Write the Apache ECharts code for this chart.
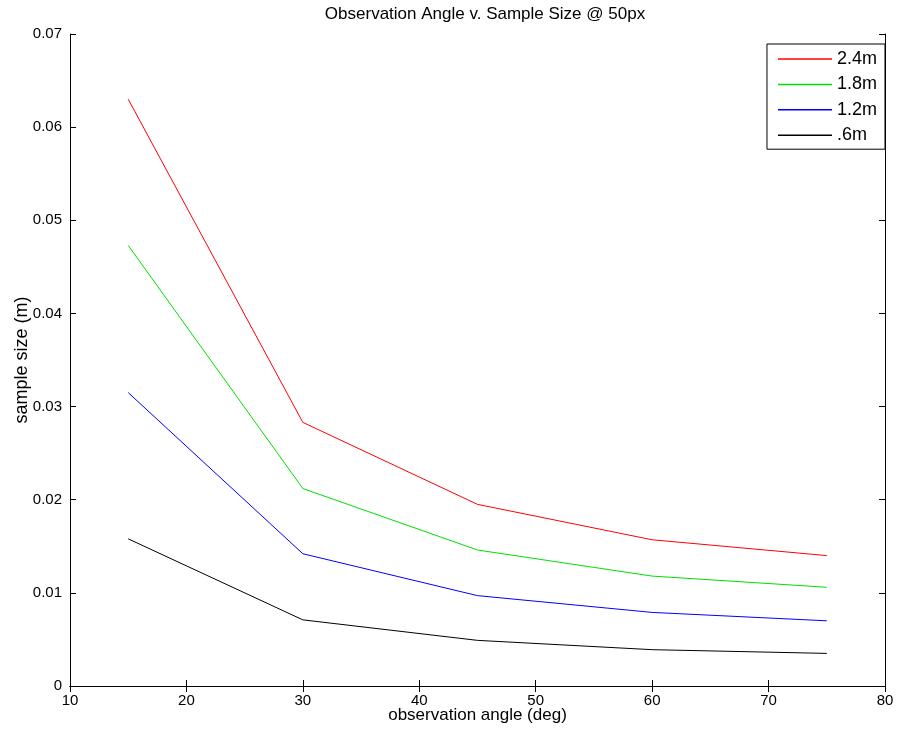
<!DOCTYPE html>
<html><head><meta charset="utf-8">
<script src="https://cdn.jsdelivr.net/npm/echarts@6/dist/echarts.min.js"></script>
<style>html,body{margin:0;padding:0;background:#fff}#c{width:906px;height:742px}</style>
</head><body><div id="c"></div>
<script>
const angles = [15, 30, 45, 60, 75];
const seriesNames = ['2.4m', '1.8m', '1.2m', '.6m'];
const s24 = [0.0630, 0.0283, 0.0195, 0.0157, 0.0140];
const s18 = [0.0473, 0.0212, 0.0146, 0.0118, 0.0106];
const s12 = [0.0315, 0.0142, 0.0097, 0.0079, 0.0070];
const s06 = [0.0158, 0.0071, 0.0049, 0.0039, 0.0035];
const xTicks = [10, 20, 30, 40, 50, 60, 70, 80];
const yTicks = [0, 0.01, 0.02, 0.03, 0.04, 0.05, 0.06, 0.07];

const colors = ['#ff0000', '#00e000', '#0000ff', '#000000'];
const values = [s24, s18, s12, s06];
const font = 'Liberation Sans, Arial, sans-serif';

const chart = echarts.init(document.getElementById('c'), null, {renderer: 'canvas'});
const axisCommon = {
  axisLine: {show: true, lineStyle: {color: '#000', width: 1}},
  axisTick: {show: true, inside: true, length: 6, lineStyle: {color: '#000'}},
  splitLine: {show: false}
};
chart.setOption({
  animation: false,
  backgroundColor: '#fff',
  title: {
    text: 'Observation Angle v. Sample Size @ 50px',
    left: 480, top: 1, textAlign: 'center',
    textStyle: {fontFamily: font, fontSize: 17, fontWeight: 'normal', color: '#000'}
  },
  grid: {left: 70, right: 21, top: 34, bottom: 56, show: false, containLabel: false, outerBoundsMode: 'none'},
  legend: {
    orient: 'vertical', right: 21, top: 44,
    data: seriesNames,
    icon: 'rect', itemWidth: 54, itemHeight: 1.5, itemGap: 7.4,
    padding: [6, 8, 5, 11],
    borderColor: '#000', borderWidth: 1, backgroundColor: '#fff',
    textStyle: {fontFamily: font, fontSize: 18, color: '#000'}
  },
  xAxis: [
    Object.assign({type: 'value', min: 10, max: 80, interval: 10, position: 'bottom',
      name: 'observation angle (deg)', nameLocation: 'middle', nameGap: 21, nameMoveOverlap: false,
      nameTextStyle: {fontFamily: font, fontSize: 17, color: '#000'},
      axisLabel: {fontFamily: font, fontSize: 15, color: '#000', margin: 7,
        formatter: v => xTicks.includes(v) ? String(v) : ''}}, axisCommon),
    Object.assign({type: 'value', min: 10, max: 80, interval: 10, position: 'top',
      axisLabel: {show: false}}, axisCommon)
  ],
  yAxis: [
    Object.assign({type: 'value', min: 0, max: 0.07, interval: 0.01, position: 'left',
      name: 'sample size (m)', nameLocation: 'middle', nameGap: 39, nameRotate: 90, nameMoveOverlap: false,
      nameTextStyle: {fontFamily: font, fontSize: 18, color: '#000'},
      axisLabel: {fontFamily: font, fontSize: 15, color: '#000', margin: 8,
        formatter: v => { const t = yTicks.find(y => Math.abs(y - v) < 1e-9); return t === undefined ? '' : (t === 0 ? '0' : t.toFixed(2)); }}}, axisCommon),
    Object.assign({type: 'value', min: 0, max: 0.07, interval: 0.01, position: 'right',
      axisLabel: {show: false}}, axisCommon)
  ],
  series: seriesNames.map((n, i) => ({
    name: n, type: 'line', xAxisIndex: 0, yAxisIndex: 0,
    data: angles.map((a, j) => [a, values[i][j]]),
    showSymbol: false, symbol: 'none',
    lineStyle: {color: colors[i], width: 1},
    itemStyle: {color: colors[i]}
  }))
});
</script></body></html>
